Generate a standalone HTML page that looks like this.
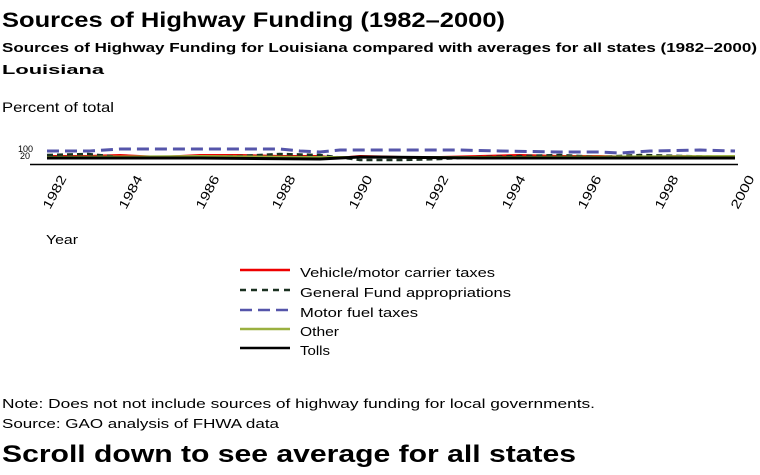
<!DOCTYPE html>
<html><head><style>
body{margin:0;width:760px;height:475px;background:#fff;font-family:"Liberation Sans",sans-serif;position:relative;overflow:hidden}
</style></head><body>
<svg width="760" height="475" style="position:absolute;left:0;top:0" font-family="Liberation Sans,sans-serif" font-size="12">
<text x="2" y="27" font-size="21" font-weight="bold" textLength="503" lengthAdjust="spacingAndGlyphs">Sources of Highway Funding (1982–2000)</text>
<text x="2" y="52" font-size="13" font-weight="bold" textLength="755" lengthAdjust="spacingAndGlyphs">Sources of Highway Funding for Louisiana compared with averages for all states (1982–2000)</text>
<text x="2" y="74" font-size="13" font-weight="bold" textLength="102" lengthAdjust="spacingAndGlyphs">Louisiana</text>
<text x="2" y="112" font-size="14" textLength="112" lengthAdjust="spacingAndGlyphs">Percent of total</text>
<text x="18" y="152" font-size="9">100</text>
<text x="20" y="159" font-size="9">20</text>
<line x1="30" y1="164.5" x2="738" y2="164.5" stroke="#000" stroke-width="1.5"/>
<polyline points="47,156 88,156 120,155 160,157 200,155 240,155 280,156 320,156 337,158 360,156 400,157 440,157 480,156 520,155 560,156 600,156 640,157 680,156 735,157" fill="none" stroke="#e00" stroke-width="2"/>
<polyline points="47,155 88,154 120,157 160,157 200,157 240,156 280,154 320,155 360,160 400,160 440,159 480,157 520,156 560,155 600,157 640,155 680,156 735,157" fill="none" stroke="#1a3020" stroke-width="2.5" stroke-dasharray="6,4"/>
<polyline points="47,151 90,151 120,149 200,149 280,149 300,151 320,152 340,150 400,150 460,150 500,151 560,152 600,152 620,153 650,151 700,150 735,151" fill="none" stroke="#5555aa" stroke-width="3" stroke-dasharray="12,6"/>
<polyline points="47,157 200,156 300,157 500,157 735,156" fill="none" stroke="#9ab040" stroke-width="2"/>
<polyline points="47,158 200,158 320,159 360,157 480,158 560,158 640,158 735,158" fill="none" stroke="#000" stroke-width="3"/>
<g font-size="13">
<text transform="translate(50,210) rotate(-62)" textLength="36" lengthAdjust="spacingAndGlyphs">1982</text>
<text transform="translate(126,210) rotate(-62)" textLength="36" lengthAdjust="spacingAndGlyphs">1984</text>
<text transform="translate(203,210) rotate(-62)" textLength="36" lengthAdjust="spacingAndGlyphs">1986</text>
<text transform="translate(279,210) rotate(-62)" textLength="36" lengthAdjust="spacingAndGlyphs">1988</text>
<text transform="translate(356,210) rotate(-62)" textLength="36" lengthAdjust="spacingAndGlyphs">1990</text>
<text transform="translate(432,210) rotate(-62)" textLength="36" lengthAdjust="spacingAndGlyphs">1992</text>
<text transform="translate(509,210) rotate(-62)" textLength="36" lengthAdjust="spacingAndGlyphs">1994</text>
<text transform="translate(585,210) rotate(-62)" textLength="36" lengthAdjust="spacingAndGlyphs">1996</text>
<text transform="translate(662,210) rotate(-62)" textLength="36" lengthAdjust="spacingAndGlyphs">1998</text>
<text transform="translate(738,210) rotate(-62)" textLength="36" lengthAdjust="spacingAndGlyphs">2000</text>
</g>
<text x="46" y="244" font-size="13" textLength="32" lengthAdjust="spacingAndGlyphs">Year</text>
<g font-size="13">
<line x1="240" y1="270" x2="290" y2="270" stroke="#e00" stroke-width="2.5"/><text x="300" y="277" textLength="195" lengthAdjust="spacingAndGlyphs">Vehicle/motor carrier taxes</text>
<line x1="240" y1="290" x2="290" y2="290" stroke="#1a3020" stroke-width="2.5" stroke-dasharray="6,5"/><text x="300" y="297" textLength="211" lengthAdjust="spacingAndGlyphs">General Fund appropriations</text>
<line x1="240" y1="310" x2="290" y2="310" stroke="#5555aa" stroke-width="2.5" stroke-dasharray="12,6"/><text x="300" y="317" textLength="118" lengthAdjust="spacingAndGlyphs">Motor fuel taxes</text>
<line x1="240" y1="329" x2="290" y2="329" stroke="#9ab040" stroke-width="2.5"/><text x="300" y="336" textLength="39" lengthAdjust="spacingAndGlyphs">Other</text>
<line x1="240" y1="348" x2="290" y2="348" stroke="#000" stroke-width="2.5"/><text x="300" y="355" textLength="30" lengthAdjust="spacingAndGlyphs">Tolls</text>
</g>
<text x="2" y="408" font-size="13" textLength="593" lengthAdjust="spacingAndGlyphs">Note: Does not not include sources of highway funding for local governments.</text>
<text x="2" y="428" font-size="13" textLength="277" lengthAdjust="spacingAndGlyphs">Source: GAO analysis of FHWA data</text>
<text x="2" y="462" font-size="24" font-weight="bold" textLength="574" lengthAdjust="spacingAndGlyphs">Scroll down to see average for all states</text>
</svg>
</body></html>
